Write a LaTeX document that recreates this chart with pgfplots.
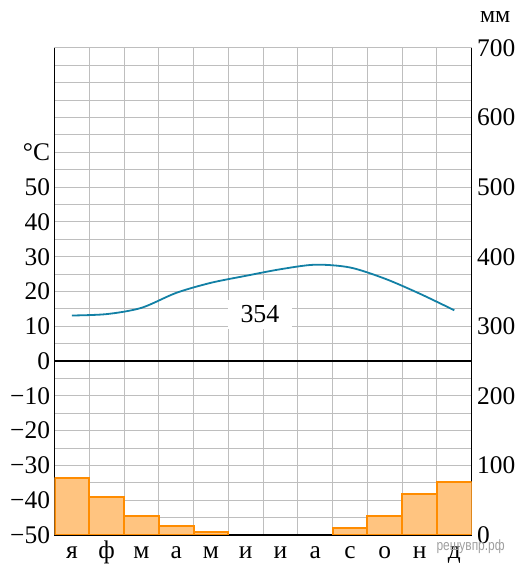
\documentclass[border=0pt]{standalone}
\usepackage{pgfplots}
\pgfplotsset{compat=1.18}
\usepackage{fontspec}
\setmainfont{Liberation Serif}
\newfontfamily\wmfont{Liberation Sans}
\definecolor{curve}{RGB}{18,128,165}
\definecolor{barfill}{RGB}{255,196,128}
\definecolor{baredge}{RGB}{255,140,0}
\definecolor{gridc}{RGB}{190,190,190}

\begin{document}
\begin{tikzpicture}
\path[use as bounding box] (-54.5bp,-31bp) rectangle (466.5bp,535bp);
% temperature axis
\begin{axis}[
  at={(0,0)}, anchor=south west,
  scale only axis, width=417.2bp, height=487bp,
  xmin=0, xmax=12, ymin=-50, ymax=90,
  axis y line*=left, axis x line*=bottom,
  xtick={0.5,1.5,...,11.5},
  xticklabels={я,ф,м,а,м,и,и,а,с,о,н,д},
  minor xtick={1,...,11},
  ytick={-50,-40,...,90},
  yticklabels={−50,−40,−30,−20,−10,0,10,20,30,40,50,°C,{},{},{}},
  minor ytick={-45,-35,...,85},
  xmajorgrids=false, xminorgrids=true, ymajorgrids=true, yminorgrids=true,
  grid style={gridc, line width=1bp},
  major tick length=0pt, minor tick length=0pt,
  tick label style={font=\fontsize{25.5}{30}\selectfont},
  yticklabel style={xshift=-1bp},
  xticklabel style={anchor=base, yshift=-23bp},
  axis line style={black, line width=1.5bp},
  extra y ticks={0}, extra y tick labels={},
  extra y tick style={grid style={black, line width=1.5bp}},
]
\addplot[curve, line width=1.8bp, smooth] coordinates {
  (0.5,13.1) (1.5,13.5) (2.5,15.3) (3.5,19.6) (4.5,22.5) (5.5,24.5)
  (6.5,26.4) (7.5,27.7) (8.5,26.9) (9.5,23.7) (10.5,19.4) (11.5,14.6)
};
\node[fill=white, inner sep=0pt, minimum width=64bp, minimum height=29bp,
  font=\fontsize{26}{30}\selectfont] at (axis cs:5.91,13.5) {354};
\end{axis}
% precipitation axis
\begin{axis}[
  at={(0,0)}, anchor=south west,
  scale only axis, width=417.2bp, height=487bp,
  xmin=0, xmax=12, ymin=0, ymax=700,
  axis y line*=right, axis x line=none,
  ytick={0,100,...,700},
  major tick length=0pt,
  /pgf/number format/assume math mode=true,
  yticklabel style={font=\fontsize{25.5}{30}\selectfont, xshift=2bp},
  axis line style={black, line width=1.5bp},
  ybar, bar width=1, bar shift=0pt,
]
\addplot[fill=barfill, draw=baredge, line width=2bp] coordinates {
  (0.5,82) (1.5,55) (2.5,27) (3.5,13) (4.5,5)
  (8.5,10) (9.5,27) (10.5,59) (11.5,76)
};
\end{axis}
\node[anchor=base west, font=\fontsize{24}{28}\selectfont]
  at (422bp,512bp) {мм};
\node[anchor=base east, text=gray!75, xscale=0.8, transform shape,
  font=\wmfont\fontsize{15}{18}\selectfont]
  at (453bp,-15.7bp) {решувпр.рф};
\end{tikzpicture}
\end{document}
